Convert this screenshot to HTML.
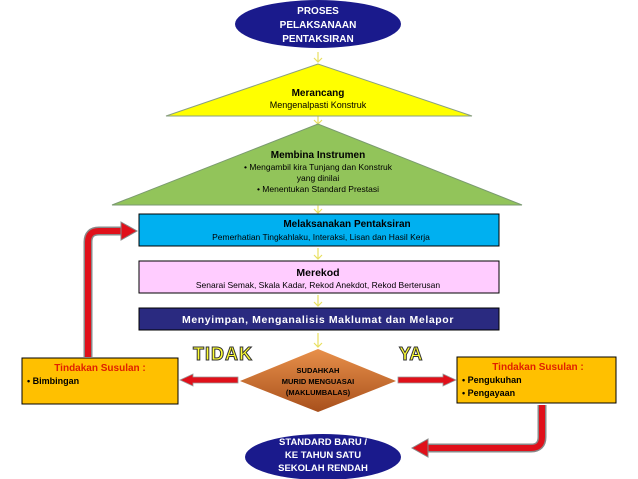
<!DOCTYPE html>
<html><head><meta charset="utf-8"><style>
html,body{margin:0;padding:0;background:#fff;}
svg{display:block;font-family:"Liberation Sans",Arial,sans-serif;}
</style></head><body>
<svg width="638" height="479" viewBox="0 0 638 479" xmlns="http://www.w3.org/2000/svg">
<defs>
<linearGradient id="dg" x1="0" y1="0" x2="0" y2="1"><stop offset="0" stop-color="#e8904a"/><stop offset="1" stop-color="#a8501c"/></linearGradient>
</defs>
<ellipse cx="318" cy="24" rx="83" ry="24" fill="#1a1a8c"/>
<text x="318" y="14" fill="#fff" font-size="10" font-weight="bold" text-anchor="middle">PROSES</text>
<text x="318" y="28" fill="#fff" font-size="10" font-weight="bold" text-anchor="middle">PELAKSANAAN</text>
<text x="318" y="42" fill="#fff" font-size="10" font-weight="bold" text-anchor="middle">PENTAKSIRAN</text>
<g stroke="#e8e060" stroke-width="1.2" fill="none">
<path d="M318 52v10M314 58l4 4 4-4"/>
<path d="M318 116v8M314 120l4 4 4-4"/>
<path d="M318 205v8M314 209l4 4 4-4"/>
<path d="M318 248v11M314 255l4 4 4-4"/>
<path d="M318 295v11M314 302l4 4 4-4"/>
<path d="M318 333v14M314 343l4 4 4-4"/>
</g>
<polygon points="318,64 166,116 472,116" fill="#ffff00" stroke="#8aa080" stroke-width="1"/>
<text x="318" y="96" font-size="10" font-weight="bold" text-anchor="middle">Merancang</text>
<text x="318" y="108" font-size="9" text-anchor="middle">Mengenalpasti Konstruk</text>
<polygon points="318,124 112,205 522,205" fill="#92c45a" stroke="#7a9a70" stroke-width="1"/>
<text x="318" y="158" font-size="10" font-weight="bold" text-anchor="middle">Membina Instrumen</text>
<text x="318" y="170" font-size="8.5" text-anchor="middle">• Mengambil kira Tunjang dan Konstruk</text>
<text x="318" y="181" font-size="8.5" text-anchor="middle">yang dinilai</text>
<text x="318" y="192" font-size="8.5" text-anchor="middle">•   Menentukan Standard Prestasi</text>
<rect x="139" y="214" width="360" height="32" fill="#00b0f0" stroke="#000" stroke-width="1"/>
<text x="347" y="227" font-size="10" font-weight="bold" text-anchor="middle">Melaksanakan Pentaksiran</text>
<text x="321" y="240" font-size="8.5" text-anchor="middle">Pemerhatian Tingkahlaku, Interaksi, Lisan  dan  Hasil Kerja</text>
<rect x="139" y="261" width="360" height="32" fill="#ffccff" stroke="#000" stroke-width="1"/>
<text x="318" y="276" font-size="10.5" font-weight="bold" text-anchor="middle">Merekod</text>
<text x="318" y="288" font-size="8.5" text-anchor="middle">Senarai Semak, Skala Kadar, Rekod Anekdot, Rekod Berterusan</text>
<rect x="139" y="308" width="360" height="22" fill="#2a2a80" stroke="#000" stroke-width="1"/>
<text x="318" y="323" fill="#fff" font-size="10.5" font-weight="bold" text-anchor="middle" letter-spacing="0.6">Menyimpan,  Menganalisis  Maklumat  dan  Melapor</text>
<text x="193" y="360" font-size="18" font-weight="bold" fill="#ffff33" stroke="#333" stroke-width="1" letter-spacing="1">TIDAK</text>
<text x="399" y="360" font-size="18" font-weight="bold" fill="#ffff33" stroke="#333" stroke-width="1">YA</text>
<polygon points="318,349 396,381 318,412 240,381" fill="url(#dg)"/>
<text x="318" y="373" font-size="7.5" font-weight="bold" text-anchor="middle">SUDAHKAH</text>
<text x="318" y="384" font-size="7.5" font-weight="bold" text-anchor="middle">MURID MENGUASAI</text>
<text x="318" y="395" font-size="7.5" font-weight="bold" text-anchor="middle">(MAKLUMBALAS)</text>
<rect x="22" y="358" width="156" height="46" fill="#ffc000" stroke="#000" stroke-width="1"/>
<text x="100" y="371" font-size="10" font-weight="bold" fill="#e02000" text-anchor="middle">Tindakan Susulan :</text>
<text x="27" y="384" font-size="9" font-weight="bold">•   Bimbingan</text>
<rect x="457" y="357" width="159" height="46" fill="#ffc000" stroke="#000" stroke-width="1"/>
<text x="538" y="370" font-size="10" font-weight="bold" fill="#e02000" text-anchor="middle">Tindakan Susulan :</text>
<text x="462" y="383" font-size="9" font-weight="bold">•   Pengukuhan</text>
<text x="462" y="396" font-size="9" font-weight="bold">•   Pengayaan</text>
<g fill="#e0101a" stroke="#999" stroke-width="0.8">
<polygon points="238,377 193,377 193,374 180,380 193,386 193,383 238,383"/>
<polygon points="398,377 443,377 443,374 456,380 443,386 443,383 398,383"/>
</g>
<g fill="none" stroke="#888" stroke-width="9" stroke-linejoin="round">
<path d="M88 357V242q0-11 11-11h24"/>
<path d="M542 405V437q0 11-11 11h-105"/>
</g>
<g fill="none" stroke="#e0101a" stroke-width="6" stroke-linejoin="round">
<path d="M88 357V242q0-11 11-11h24"/>
<path d="M542 405V437q0 11-11 11h-105"/>
</g>
<polygon points="121,222 137,231 121,240" fill="#e0101a" stroke="#888" stroke-width="1"/>
<polygon points="428,439 412,448 428,457" fill="#e0101a" stroke="#888" stroke-width="1"/>
<ellipse cx="323" cy="457" rx="78" ry="23" fill="#1a1a8c"/>
<text x="323" y="445" fill="#fff" font-size="9.5" font-weight="bold" text-anchor="middle">STANDARD BARU /</text>
<text x="323" y="458" fill="#fff" font-size="9.5" font-weight="bold" text-anchor="middle">KE TAHUN SATU</text>
<text x="323" y="471" fill="#fff" font-size="9.5" font-weight="bold" text-anchor="middle">SEKOLAH RENDAH</text>
</svg>
</body></html>
